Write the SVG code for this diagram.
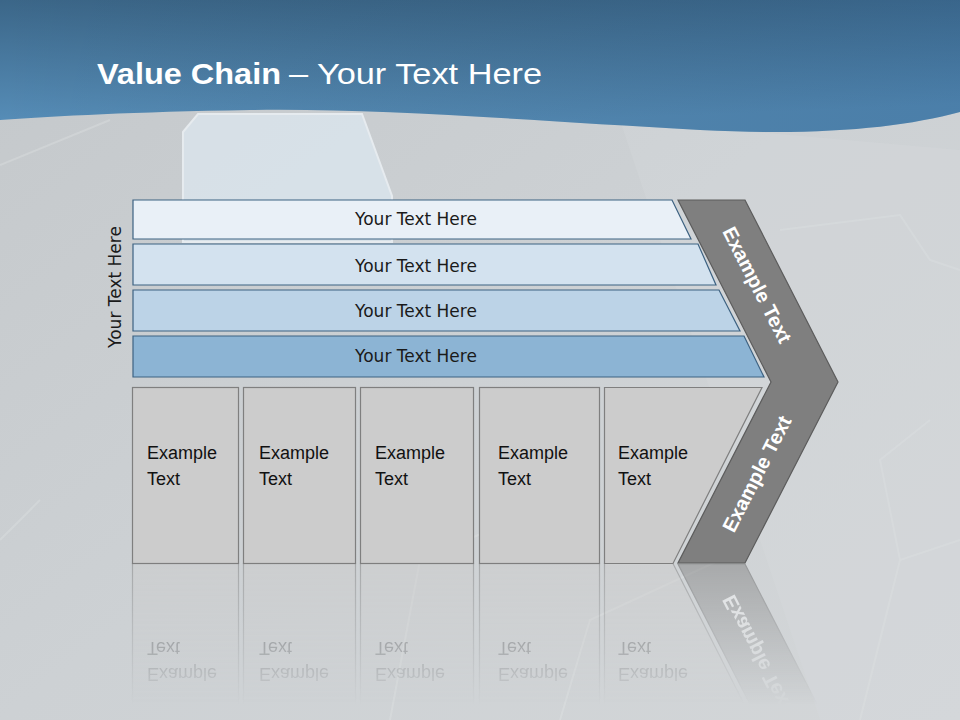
<svg xmlns="http://www.w3.org/2000/svg" xmlns:xlink="http://www.w3.org/1999/xlink" width="960" height="720" viewBox="0 0 960 720">
<defs>
<linearGradient id="bg" x1="0" y1="0" x2="1" y2="1">
<stop offset="0" stop-color="#c4c8cb"/>
<stop offset="0.5" stop-color="#cdd1d4"/>
<stop offset="1" stop-color="#d3d6d8"/>
</linearGradient>
<linearGradient id="hdr" x1="0" y1="0" x2="0.3" y2="1">
<stop offset="0" stop-color="#3b6688"/>
<stop offset="1" stop-color="#5b94c0"/>
</linearGradient>
<linearGradient id="hdr2" x1="0" y1="0" x2="1" y2="0">
<stop offset="0" stop-color="#000" stop-opacity="0"/>
<stop offset="1" stop-color="#1a3f66" stop-opacity="0.25"/>
</linearGradient>
<linearGradient id="fadeG" x1="0" y1="563" x2="0" y2="705" gradientUnits="userSpaceOnUse">
<stop offset="0" stop-color="#fff" stop-opacity="0.5"/>
<stop offset="1" stop-color="#fff" stop-opacity="0"/>
</linearGradient>
<mask id="fade" maskUnits="userSpaceOnUse" x="0" y="563" width="960" height="157">
<rect x="0" y="563" width="960" height="157" fill="url(#fadeG)"/>
</mask>
<style>
.bar{stroke:#3d6282;stroke-width:1.2}
.bt{font-family:"DejaVu Sans",sans-serif;font-size:17px;fill:#1a1a1a;text-anchor:middle}
.box{fill:#cccccc;stroke:#7f7f7f;stroke-width:1.2}
.xt{font-family:"Liberation Sans",Arial,sans-serif;font-size:18px;fill:#111}
.ct{font-family:"Liberation Sans",Arial,sans-serif;font-size:20px;font-weight:bold;fill:#fff;text-anchor:middle}
.hex{fill:none;stroke:#e4e7e9;stroke-width:2;opacity:0.3}
</style>
</defs>
<rect width="960" height="720" fill="url(#bg)"/>
<g id="background">
<path class="hex" d="M0,165 L110,120 M40,500 L0,540 M390,720 L420,560 L560,500 M560,720 L590,620 L720,560 M860,720 L900,560 L960,540 M780,230 L900,215 L930,260 L960,270 M900,560 L880,460 L930,420"/>
<path d="M620,120 L960,150 L960,720 L820,720 Z" fill="#d8dbdd" opacity="0.3"/>
<path d="M183,132 L198,114 L362,114 L392,196 L392,242 L183,242 Z" fill="#dbe6ee" stroke="#eef3f7" stroke-width="2" opacity="0.8"/>
</g>
<g id="header">
<path d="M0,0 H960 V112 C900,128 820,136 700,130 C520,120 380,108 250,110 C130,112 60,116 0,120 Z" fill="url(#hdr)"/>
<path d="M0,0 H960 V112 C900,128 820,136 700,130 C520,120 380,108 250,110 C130,112 60,116 0,120 Z" fill="url(#hdr2)"/>
<text x="97" y="84" font-family="Liberation Sans,Arial,sans-serif" font-size="30" font-weight="bold" fill="#fff" textLength="184" lengthAdjust="spacingAndGlyphs">Value Chain</text>
<text x="289" y="84" font-family="Liberation Sans,Arial,sans-serif" font-size="30" fill="#fff" textLength="253" lengthAdjust="spacingAndGlyphs">– Your Text Here</text>
</g>
<g id="side-label">
<text transform="translate(121,287) rotate(-90)" class="bt">Your Text Here</text>
</g>
<g id="bar1"><path class="bar" d="M133,200 H672 L691,239 H133 Z" fill="#e9f0f7"/><text class="bt" x="416" y="225">Your Text Here</text></g>
<g id="bar2"><path class="bar" d="M133,244 H698 L716,285 H133 Z" fill="#d3e2ef"/><text class="bt" x="416" y="272">Your Text Here</text></g>
<g id="bar3"><path class="bar" d="M133,290 H719 L740,331 H133 Z" fill="#bcd3e7"/><text class="bt" x="416" y="317">Your Text Here</text></g>
<g id="bar4"><path class="bar" d="M133,336 H744 L764,377 H133 Z" fill="#8cb4d4"/><text class="bt" x="416" y="362">Your Text Here</text></g>
<g id="lower">
<g id="box1"><rect class="box" x="132.5" y="387.5" width="106" height="176"/><text class="xt" x="147" y="459">Example</text><text class="xt" x="147" y="485">Text</text></g>
<g id="box2"><rect class="box" x="243.5" y="387.5" width="112" height="176"/><text class="xt" x="259" y="459">Example</text><text class="xt" x="259" y="485">Text</text></g>
<g id="box3"><rect class="box" x="360.5" y="387.5" width="113" height="176"/><text class="xt" x="375" y="459">Example</text><text class="xt" x="375" y="485">Text</text></g>
<g id="box4"><rect class="box" x="479.5" y="387.5" width="120" height="176"/><text class="xt" x="498" y="459">Example</text><text class="xt" x="498" y="485">Text</text></g>
<g id="box5"><path class="box" d="M604.5,387.5 H762 L673,563.5 H604.5 Z"/><text class="xt" x="618" y="459">Example</text><text class="xt" x="618" y="485">Text</text></g>
<g id="chevron">
<path d="M678,200 H745 L838,382 L745,563 H678 L771,382 Z" fill="#7f7f7f" stroke="#5c5c5c" stroke-width="1.2"/>
<text class="ct" transform="translate(751,288) rotate(62.9)">Example Text</text>
<text class="ct" transform="translate(763,477) rotate(-62.9)">Example Text</text>
</g>
</g>
<g id="reflection" mask="url(#fade)">
<use xlink:href="#lower" href="#lower" transform="translate(0,1127) scale(1,-1)"/>
</g>
</svg>
